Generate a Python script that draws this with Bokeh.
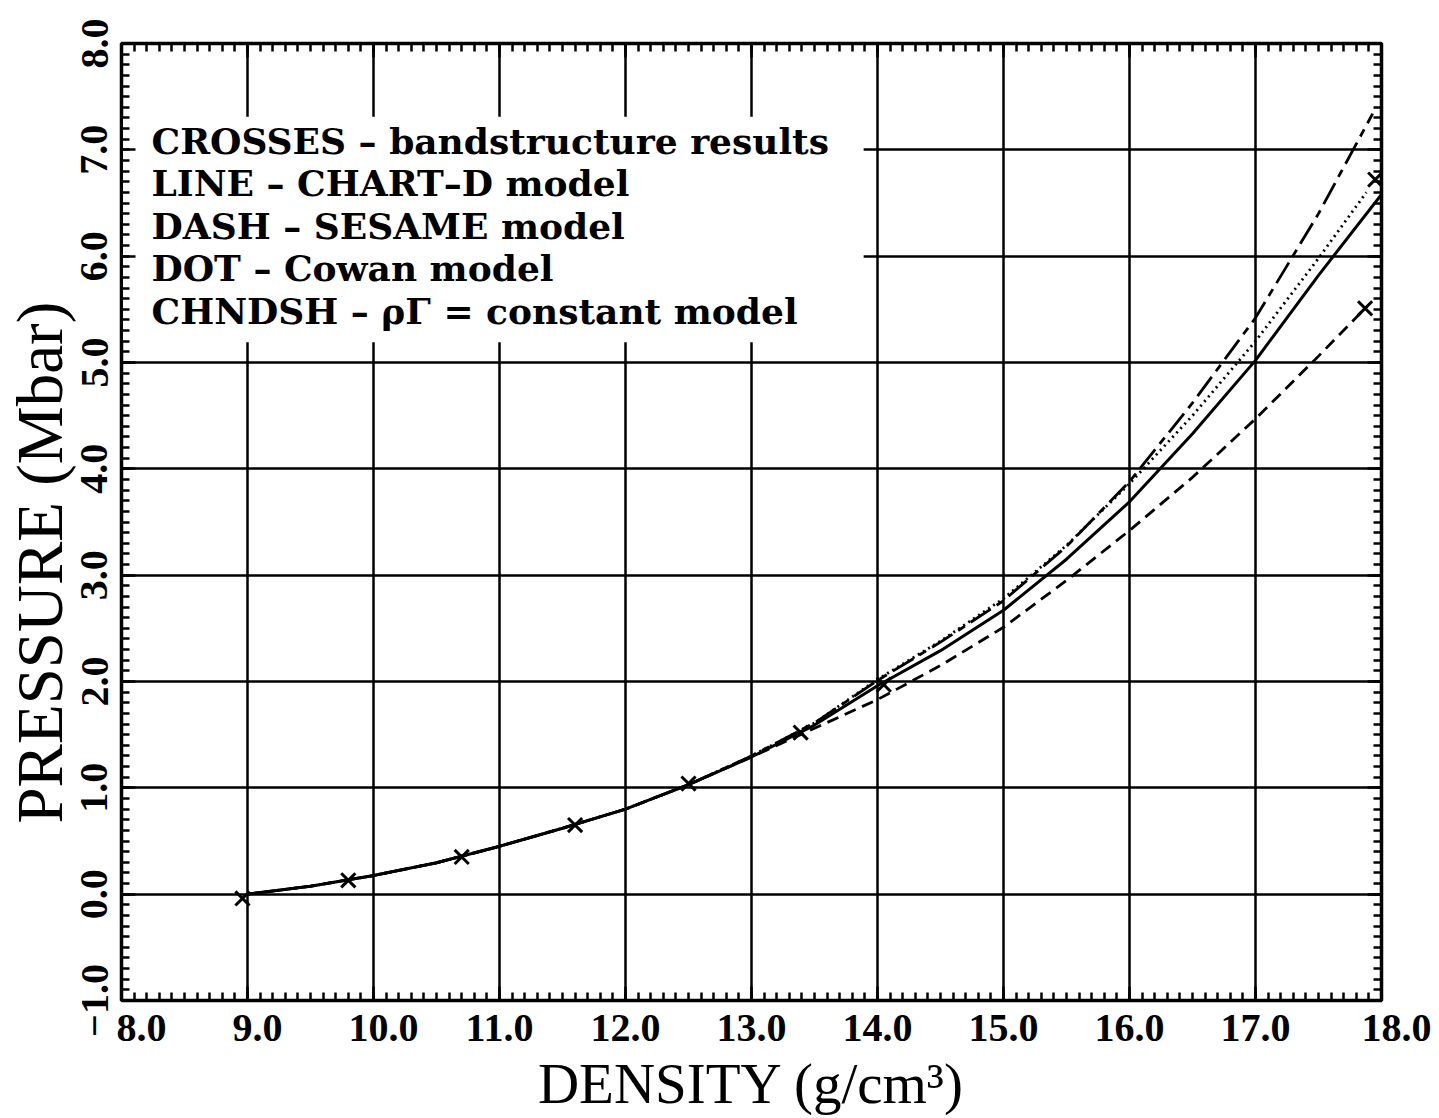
from bokeh.plotting import figure
from bokeh.models import (SingleIntervalTicker, LinearAxis, BoxAnnotation, Label,
                          NumeralTickFormatter, Range1d, CustomLabelingPolicy)
from bokeh.embed import file_html
from bokeh.resources import INLINE

# ---- data ----
band_density = [8.96, 9.80, 10.70, 11.60, 12.50, 13.39, 14.05, 17.87, 17.95]
band_pressure = [-0.04, 0.13, 0.35, 0.65, 1.04, 1.52, 1.97, 5.51, 6.72]

chartd_density = [9.0, 9.5, 10.0, 10.5, 11.0, 11.5, 12.0, 12.5, 13.0, 13.5, 14.0, 14.5, 15.0, 15.5, 16.0, 16.5, 17.0, 17.5, 18.0]
chartd_pressure = [0.0, 0.075, 0.175, 0.295, 0.45, 0.62, 0.80, 1.03, 1.29, 1.59, 1.96, 2.29, 2.67, 3.15, 3.69, 4.33, 5.02, 5.82, 6.58]

sesame_density = [9.0, 9.5, 10.0, 10.5, 11.0, 11.5, 12.0, 12.5, 13.0, 13.5, 14.0, 14.5, 15.0, 15.5, 16.0, 16.5, 17.0, 17.5, 17.87]
sesame_pressure = [0.0, 0.075, 0.175, 0.295, 0.45, 0.62, 0.80, 1.03, 1.29, 1.56, 1.83, 2.15, 2.51, 2.95, 3.42, 3.92, 4.47, 5.06, 5.51]

cowan_density = [9.0, 9.5, 10.0, 10.5, 11.0, 11.5, 12.0, 12.5, 13.0, 13.5, 14.0, 14.5, 15.0, 15.5, 16.0, 16.5, 17.0, 17.5, 17.88]
cowan_pressure = [0.0, 0.075, 0.175, 0.295, 0.45, 0.62, 0.80, 1.03, 1.30, 1.61, 2.02, 2.38, 2.78, 3.28, 3.86, 4.50, 5.20, 5.98, 6.60]

rhogamma_density = [9.0, 9.5, 10.0, 10.5, 11.0, 11.5, 12.0, 12.5, 13.0, 13.5, 14.0, 14.5, 15.0, 15.5, 16.0, 16.5, 17.0, 17.5, 17.93]
rhogamma_pressure = [0.0, 0.075, 0.175, 0.295, 0.45, 0.62, 0.80, 1.03, 1.30, 1.61, 2.01, 2.37, 2.76, 3.27, 3.88, 4.62, 5.42, 6.40, 7.34]

legend_lines = [
    "CROSSES \u2013 bandstructure results",
    "LINE \u2013 CHART\u2013D model",
    "DASH \u2013 SESAME model",
    "DOT \u2013 Cowan model",
    "CHNDSH \u2013 \u03c1\u0393 = constant model",
]
x_title = "DENSITY (g/cm\u00b3)"
y_title = "PRESSURE (Mbar)\u00a0\u00a0\u00a0\u00a0\u00a0"

NB = "\u00a0"
x_tick_values = [8, 9, 10, 18]
x_tick_labels = [NB * 4 + "8.0", NB * 2 + "9.0", NB * 2 + "10.0", NB * 3 + "18.0"]
y_tick_values = [-1]
y_tick_labels = ["\u22121.0"]

# ---- figure ----
p = figure(output_backend="svg", toolbar_location=None,
           frame_width=1260, frame_height=957,
           min_border_left=121, min_border_right=52, min_border_top=43, min_border_bottom=110,
           x_range=Range1d(8, 18), y_range=Range1d(-1, 8),
           x_axis_label=x_title, y_axis_label=y_title,
           background_fill_color="white", border_fill_color="white")

p.outline_line_color = "black"
p.outline_line_width = 3.5
p.outline_line_alpha = 1.0

xt = SingleIntervalTicker(interval=1, num_minor_ticks=10)
yt = SingleIntervalTicker(interval=1, num_minor_ticks=10)

tick_font = "Liberation Serif"

def style_axis(ax, ticker, show_labels):
    ax.ticker = ticker
    ax.formatter = NumeralTickFormatter(format="0.0")
    ax.axis_line_color = "black"
    ax.axis_line_width = 3
    ax.major_tick_in = 14
    ax.major_tick_out = 0
    ax.minor_tick_in = 8
    ax.minor_tick_out = 0
    ax.major_tick_line_width = 2.5
    ax.minor_tick_line_width = 2.5
    ax.major_tick_line_color = "black"
    ax.minor_tick_line_color = "black"
    if show_labels:
        ax.major_label_text_font = tick_font
        ax.major_label_text_font_style = "bold"
        ax.major_label_text_font_size = "40px"
        ax.major_label_text_color = "black"
    else:
        ax.major_label_policy = CustomLabelingPolicy(
            code="for (const i of indices) { indices.unset(i) }")
        ax.major_label_standoff = 0

xa = p.xaxis[0]
ya = p.yaxis[0]
style_axis(xa, xt, True)
style_axis(ya, yt, True)
xa.major_label_standoff = 4
ya.major_label_standoff = 14
ya.major_label_orientation = "vertical"
xa.major_label_overrides = dict(zip(x_tick_values, x_tick_labels))
ya.major_label_overrides = dict(zip(y_tick_values, y_tick_labels))

for ax, size in ((xa, "57px"), (ya, "65px")):
    ax.axis_label_text_font = "Liberation Serif"
    ax.axis_label_text_font_style = "normal"
    ax.axis_label_text_font_size = size
    ax.axis_label_text_color = "black"
xa.axis_label_standoff = -1
ya.axis_label_standoff = 3

top_ax = LinearAxis()
right_ax = LinearAxis()
style_axis(top_ax, SingleIntervalTicker(interval=1, num_minor_ticks=10), False)
style_axis(right_ax, SingleIntervalTicker(interval=1, num_minor_ticks=10), False)
p.add_layout(top_ax, "above")
p.add_layout(right_ax, "right")

p.xgrid.ticker = xt
p.ygrid.ticker = yt
for g in (p.xgrid[0], p.ygrid[0]):
    g.grid_line_color = "black"
    g.grid_line_width = 2.5
    g.grid_line_alpha = 1.0

# white-out of the grid behind the legend text
p.add_layout(BoxAnnotation(left=8, right=13.89, bottom=5.19, top=7.31,
                           fill_color="white", fill_alpha=1.0, line_alpha=0,
                           level="underlay"))

# ---- curves ----
p.line(chartd_density, chartd_pressure, line_color="black", line_width=3)
p.line(sesame_density, sesame_pressure, line_color="black", line_width=2.8, line_dash="12 7")
p.line(cowan_density, cowan_pressure, line_color="black", line_width=2.8, line_dash="2 4")
p.line(rhogamma_density, rhogamma_pressure, line_color="black", line_width=2.8, line_dash="24 7 8 7")
p.scatter(band_density, band_pressure, marker="x", size=20, line_color="black", line_width=3)

# ---- legend text ----
legend_baselines = [7.085, 6.690, 6.285, 5.890, 5.486]
for txt, yb in zip(legend_lines, legend_baselines):
    p.add_layout(Label(x=8.238, y=yb, text=txt, text_font="DejaVu Serif",
                       text_font_style="bold", text_font_size="36px",
                       text_color="black", text_baseline="alphabetic"))

open("out.html", "w").write(file_html(p, INLINE))
